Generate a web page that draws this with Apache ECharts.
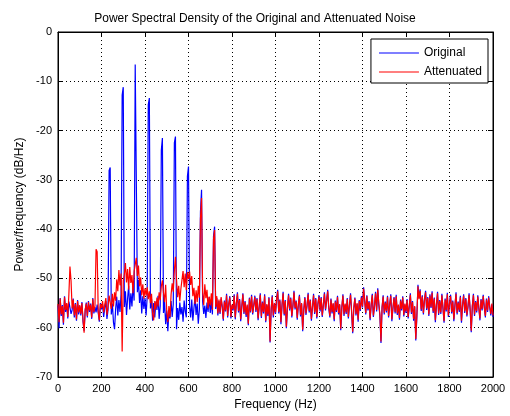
<!DOCTYPE html>
<html>
<head>
<meta charset="utf-8">
<script src="https://cdn.jsdelivr.net/npm/echarts@6/dist/echarts.min.js"></script>
<style>html,body{margin:0;padding:0;background:#fff;}#c{width:510px;height:416px;}</style>
</head>
<body>
<div id="c"></div>
<script>
// Frequency bins (Hz), 5 Hz apart, 0..2000
const freqStep = 5;
const binCount = 401;
const xTicks = [0,200,400,600,800,1000,1200,1400,1600,1800,2000];
const yTicks = [-70,-60,-50,-40,-30,-20,-10,0];

// Original noise PSD (dB/Hz)
const original = [
-55.5,-60.1,-54.0,-57.6,-55.4,-59.4,-53.6,-56.8,-55.2,-58.1,-54.7,-55.9,-57.2,-56.4,-54.1,-57.9,-55.0,-58.6,-54.4,-57.3,-55.6,
-57.5,-54.8,-58.7,-60.6,-56.5,-54.9,-57.9,-54.6,-56.8,-55.1,-58.2,-54.0,-57.1,-55.8,-56.9,-55.3,-57.0,-58.8,-55.0,-56.3,
-55.3,-57.8,-56.0,-54.6,-58.2,-56.4,-28.1,-27.5,-57.3,-55.1,-58.9,-60.3,-56.2,-53.7,-57.5,-54.4,-56.8,-53.2,-12.8,-11.2,
-55.8,-52.6,-57.4,-54.1,-51.5,-56.3,-53.0,-55.7,-51.2,-54.5,-6.6,-6.2,-52.8,-50.3,-55.0,-52.4,-57.1,-53.6,-56.2,-54.0,
-57.5,-53.8,-14.8,-13.4,-56.1,-54.2,-58.6,-55.0,-57.9,-54.7,-56.4,-53.5,-58.2,-55.6,-24.0,-21.5,-57.0,-54.8,-59.3,-56.5,
-60.7,-56.9,-58.1,-54.6,-57.8,-55.2,-22.5,-21.2,-60.3,-56.0,-58.4,-54.9,-57.3,-55.8,-58.8,-54.5,-56.7,-57.9,-29.3,-27.3,
-55.6,-57.9,-54.3,-58.6,-56.0,-53.9,-57.4,-55.1,-59.2,-56.3,-36.5,-32.0,-54.7,-57.2,-55.5,-58.0,-54.9,-56.8,-53.8,-57.0,
-54.6,-57.3,-41.4,-39.5,-56.2,-54.0,-57.5,-54.6,-57.2,-54.1,
-55.8,-58.6,-54.5,-56.7,-53.1,-57.9,-55.3,-53.6,-58.1,-55.5,
-56.5,-53.2,-58.3,-55.2,-52.8,-56.9,-54.2,-58.7,-55.9,-53.0,-57.2,-54.6,-57.8,-55.5,-59.5,-53.9,-56.9,-53.3,-57.3,-55.6,
-53.5,-56.8,-54.0,-58.5,-55.8,-53.0,-58.0,-54.7,-57.1,-53.2,-58.9,-55.4,-57.6,-53.8,-63.0,-56.4,-53.4,-57.9,-55.2,-57.2,
-54.1,-52.3,-57.1,-54.3,-59.3,-55.5,-52.7,-57.5,-54.4,-60.1,-56.1,-53.1,-56.5,-53.9,-57.9,-55.7,-52.5,-56.3,-54.5,-58.4,
-55.4,-53.3,-57.7,-55.2,-60.7,-56.5,-53.8,-57.4,-55.6,-52.9,-56.9,-54.3,-58.6,-55.9,-53.1,-57.2,-54.0,-58.1,-55.3,-53.4,
-56.7,-53.8,-57.8,-55.5,-52.8,-56.5,-54.4,-52.3,-56.1,-57.9,-54.1,-57.1,-55.2,-58.7,-54.5,-56.8,-53.5,-57.3,-55.4,-60.5,
-56.0,-53.2,-57.6,-55.3,-57.2,-54.0,-58.1,-55.6,-53.0,-56.9,-61.1,-56.1,-53.9,-57.5,-55.2,-58.8,-54.4,-56.6,-53.6,-55.9,
-51.8,-54.3,-57.3,-53.4,-56.5,-54.6,-58.5,-55.4,-53.1,-57.8,-55.8,-52.7,-56.7,-52.0,-55.3,-57.6,-63.1,-56.0,-53.4,-57.3,
-54.7,-56.9,-53.5,-57.9,-55.4,-53.2,-58.7,-56.1,-53.8,-57.1,-53.3,-57.4,-55.5,-58.4,-54.3,-56.5,-53.6,-57.7,-55.3,-57.0,
-54.2,-58.1,-55.7,-53.0,-57.2,-54.6,-58.6,-55.8,-62.6,-57.7,-51.3,-54.0,-52.2,-56.6,-53.4,-57.3,-54.2,-52.5,-56.4,-53.8,
-57.6,-53.2,-56.0,-52.6,-57.0,-53.9,-58.9,-55.4,-52.7,-57.4,-54.4,-57.2,-53.1,-56.1,-59.0,-54.1,-56.7,-52.9,-57.8,-55.2,
-53.3,-57.1,-54.5,-58.7,-55.6,-52.8,-57.3,-54.7,-56.8,-53.5,-59.0,-55.5,-53.2,-57.0,-54.0,-57.7,-55.8,-53.0,-56.5,-60.9,
-55.7,-53.1,-57.6,-54.6,-56.9,-53.4,-56.1,-58.5,-54.2,-56.5,-53.3,-56.0,-57.9,-54.1,-56.8,-53.6,-55.9,-57.5,-55.3,-57.8
];

// Attenuated noise PSD (dB/Hz)
const attenuated = [
-55.2,-58.9,-54.1,-57.3,-55.6,-59.0,-53.8,-56.4,-55.0,-57.8,-53.2,-47.6,-50.5,-56.1,-54.3,-57.5,-55.2,-58.3,-54.6,-56.9,-55.4,
-57.2,-55.0,-58.4,-61.0,-56.3,-55.1,-57.6,-54.8,-56.5,-55.3,-57.9,-54.2,-56.8,-55.5,-44.1,-44.6,-56.7,-58.5,-55.2,-56.0,
-54.6,-56.9,-55.3,-54.0,-57.4,-55.8,-53.5,-54.9,-56.2,-53.1,-55.7,-52.8,-54.5,-50.2,-52.6,-48.3,-51.4,-49.0,-64.8,-50.5,
-49.2,-46.9,-50.8,-48.1,-52.3,-47.7,-50.9,-49.3,-53.0,-48.6,-47.2,-45.8,-49.5,-47.4,-51.6,-49.8,-53.4,-51.2,-54.1,-52.0,
-53.5,-51.8,-54.2,-52.6,-55.0,-53.1,-57.2,-58.5,-54.6,-56.3,-53.9,-55.7,-52.8,-54.4,-51.6,-50.4,-52.9,-54.8,-51.3,-56.7,
-58.9,-55.6,-57.8,-53.2,-51.0,-52.7,-48.4,-45.6,-50.2,-53.8,-51.5,-54.6,-52.1,-50.3,-48.5,-51.8,-49.0,-52.4,-48.7,-50.1,
-48.6,-51.3,-49.5,-53.6,-51.9,-55.2,-52.4,-54.8,-51.5,-53.9,-37.9,-33.7,-52.8,-55.4,-51.2,-54.0,-52.3,-56.1,-53.7,-55.5,
-53.0,-56.4,-42.0,-40.2,-55.8,-53.6,-57.1,-54.3,-56.9,-53.8,
-55.6,-58.2,-54.7,-56.5,-53.4,-57.6,-55.1,-53.9,-57.8,-55.3,
-56.2,-53.5,-57.9,-55.0,-53.1,-56.6,-54.4,-58.3,-55.7,-53.2,-56.9,-54.8,-57.4,-55.3,-59.2,-54.1,-56.7,-53.6,-57.0,-55.4,
-53.8,-56.5,-54.2,-58.1,-55.6,-53.3,-57.7,-54.9,-56.8,-53.5,-58.6,-55.2,-57.3,-54.0,-62.8,-56.1,-53.7,-57.5,-55.0,-56.9,
-54.3,-52.6,-56.8,-54.5,-58.9,-55.3,-53.0,-57.2,-54.6,-59.8,-55.9,-53.4,-56.2,-54.1,-57.6,-55.5,-52.8,-56.0,-54.7,-58.0,
-55.2,-53.6,-57.4,-55.0,-60.4,-56.3,-54.0,-57.1,-55.4,-53.2,-56.6,-54.5,-58.2,-55.7,-53.4,-56.9,-54.2,-57.8,-55.1,-53.7,
-56.4,-54.0,-57.5,-55.3,-53.1,-56.2,-54.6,-52.6,-55.9,-57.6,-54.3,-56.8,-55.0,-58.3,-54.7,-56.5,-53.8,-57.0,-55.2,-60.2,
-55.8,-53.5,-57.3,-55.1,-56.9,-54.2,-57.8,-55.4,-53.3,-56.6,-60.8,-55.9,-54.1,-57.2,-55.0,-58.4,-54.6,-56.3,-53.9,-55.7,
-52.1,-54.5,-57.0,-53.6,-56.2,-54.8,-58.1,-55.2,-53.4,-57.5,-55.6,-53.0,-56.4,-52.3,-55.1,-57.3,-62.8,-55.8,-53.7,-57.0,
-54.9,-56.6,-53.8,-57.6,-55.2,-53.5,-58.3,-55.9,-54.0,-56.8,-53.6,-57.1,-55.3,-58.0,-54.5,-56.2,-53.9,-57.4,-55.1,-56.7,
-54.4,-57.8,-55.5,-53.3,-56.9,-54.8,-58.2,-55.6,-62.3,-57.4,-51.6,-54.2,-52.5,-56.3,-53.7,-57.0,-54.4,-52.8,-56.1,-54.0,
-57.3,-53.5,-55.8,-52.9,-56.7,-54.1,-58.5,-55.2,-53.0,-57.1,-54.6,-56.9,-53.4,-55.9,-58.7,-54.3,-56.4,-53.2,-57.5,-55.0,
-53.6,-56.8,-54.7,-58.3,-55.4,-53.1,-57.0,-54.9,-56.5,-53.8,-58.6,-55.3,-53.5,-56.7,-54.2,-57.4,-55.6,-53.3,-56.2,-60.6,
-55.5,-53.4,-57.3,-54.8,-56.6,-53.7,-55.9,-58.1,-54.4,-56.2,-53.6,-55.8,-57.6,-54.3,-56.5,-53.9,-55.7,-57.2,-55.1,-57.5
];

const FONT = "'Liberation Sans', Arial, Helvetica, sans-serif";
const freqs = [];
for (let i = 0; i < binCount; i++) freqs.push(i * freqStep);
const pairs = vals => vals.map((v, i) => [freqs[i], v]);

const chart = echarts.init(document.getElementById('c'), null, {renderer: 'canvas'});
const axisCommon = {
  axisLine: {show: true, onZero: false, lineStyle: {color: '#000', width: 1}},
  axisTick: {show: true, inside: true, length: 5, lineStyle: {color: '#000'}},
};
chart.setOption({
  animation: false,
  backgroundColor: '#fff',
  title: {
    text: 'Power Spectral Density of the Original and Attenuated Noise',
    left: 'center', top: 8,
    textStyle: {fontFamily: FONT, fontSize: 12, fontWeight: 'normal', color: '#000'}
  },
  legend: {
    data: [
      {name: 'Original', icon: 'rect', itemStyle: {color: '#0000ff'}},
      {name: 'Attenuated', icon: 'rect', itemStyle: {color: '#ff0000'}}
    ],
    orient: 'vertical', right: 22, top: 39,
    itemWidth: 40, itemHeight: 1, itemGap: 5,
    padding: [7, 6, 4, 8],
    borderColor: '#000', borderWidth: 1, backgroundColor: '#fff',
    textStyle: {fontFamily: FONT, fontSize: 12, color: '#000', lineHeight: 14}
  },
  grid: {left: 58, right: 17, top: 32, bottom: 38, show: true, borderColor: '#000', borderWidth: 1},
  xAxis: [
    Object.assign({
      type: 'value', min: xTicks[0], max: xTicks[xTicks.length - 1], interval: 200,
      name: 'Frequency (Hz)', nameLocation: 'middle', nameGap: 22,
      nameTextStyle: {fontFamily: FONT, fontSize: 12, color: '#000'},
      axisLabel: {fontFamily: FONT, fontSize: 11, color: '#000', margin: 6, formatter: v => String(v)},
      splitLine: {show: true, lineStyle: {color: '#000', type: [1, 3], width: 1}}
    }, axisCommon),
    Object.assign({
      type: 'value', position: 'top', min: 0, max: 2000, interval: 200,
      axisLabel: {show: false}, splitLine: {show: false}
    }, axisCommon)
  ],
  yAxis: [
    Object.assign({
      type: 'value', min: yTicks[0], max: yTicks[yTicks.length - 1], interval: 10,
      name: 'Power/frequency (dB/Hz)', nameLocation: 'middle', nameGap: 31,
      nameTextStyle: {fontFamily: FONT, fontSize: 12, color: '#000'},
      axisLabel: {fontFamily: FONT, fontSize: 11, color: '#000', margin: 6, formatter: v => String(v)},
      splitLine: {show: true, lineStyle: {color: '#000', type: [1, 3], width: 1}}
    }, axisCommon),
    Object.assign({
      type: 'value', position: 'right', min: -70, max: 0, interval: 10,
      axisLabel: {show: false}, splitLine: {show: false}
    }, axisCommon)
  ],
  series: [
    {name: 'Original', type: 'line', data: pairs(original), symbol: 'none', showSymbol: false,
     lineStyle: {color: '#0000ff', width: 1.2}, itemStyle: {color: '#0000ff'}},
    {name: 'Attenuated', type: 'line', data: pairs(attenuated), symbol: 'none', showSymbol: false,
     lineStyle: {color: '#ff0000', width: 1.2}, itemStyle: {color: '#ff0000'}}
  ]
});
</script>
</body>
</html>
